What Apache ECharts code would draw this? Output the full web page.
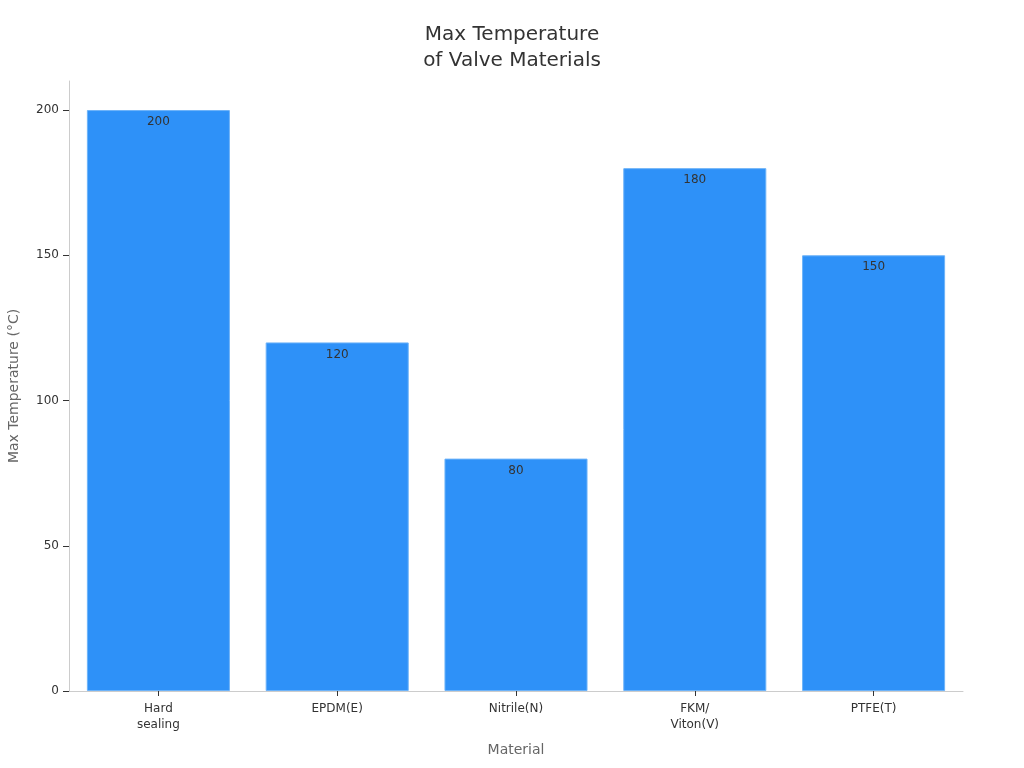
<!DOCTYPE html>
<html>
<head>
<meta charset="utf-8">
<script src="https://cdn.jsdelivr.net/npm/echarts@6/dist/echarts.min.js"></script>
<style>html,body{margin:0;padding:0;background:#fff;}#c{width:1024px;height:768px;}</style>
</head>
<body>
<div id="c"></div>
<script>
var categories = ['Hard\nsealing', 'EPDM(E)', 'Nitrile(N)', 'FKM/\nViton(V)', 'PTFE(T)'];
var maxTemps = [200, 120, 80, 180, 150];
var yTicks = [0, 50, 100, 150, 200];

var chart = echarts.init(document.getElementById('c'));
var font = 'DejaVu Sans';
chart.setOption({
  animation: false,
  textStyle: { fontFamily: font },
  title: {
    text: 'Max Temperature\nof Valve Materials',
    left: 'center', top: 17,
    textStyle: { fontFamily: font, fontSize: 20, fontWeight: 'normal', color: '#333', lineHeight: 26 }
  },
  grid: { left: 69, right: 61, top: 81, bottom: 77, outerBoundsMode: 'none', containLabel: false },
  xAxis: {
    type: 'category',
    data: categories,
    name: 'Material', nameLocation: 'middle', nameGap: 52,
    nameTextStyle: { fontFamily: font, fontSize: 14, color: '#666' },
    axisLine: { show: true, lineStyle: { color: '#ccc' } },
    axisTick: { show: true, alignWithLabel: true, length: 5, lineStyle: { color: '#333' } },
    axisLabel: { fontFamily: font, fontSize: 12, color: '#333', margin: 10, lineHeight: 16 }
  },
  yAxis: {
    type: 'value',
    min: 0, max: 210, interval: 50,
    name: 'Max Temperature (°C)', nameLocation: 'middle', nameGap: 48,
    nameTextStyle: { fontFamily: font, fontSize: 14, color: '#666' },
    axisLine: { show: true, lineStyle: { color: '#ccc' } },
    axisTick: { show: true, length: 6, lineStyle: { color: '#333' }, customValues: yTicks },
    axisLabel: { fontFamily: font, fontSize: 12, color: '#333', margin: 10, customValues: yTicks },
    splitLine: { show: false }
  },
  series: [{
    type: 'bar',
    data: maxTemps,
    barCategoryGap: '20%',
    itemStyle: { color: '#2e91f8', borderColor: '#6db3f9', borderWidth: 1 },
    label: { show: true, position: 'insideTop', distance: 6, fontFamily: font, fontSize: 12, color: '#333' }
  }]
});
</script>
</body>
</html>
